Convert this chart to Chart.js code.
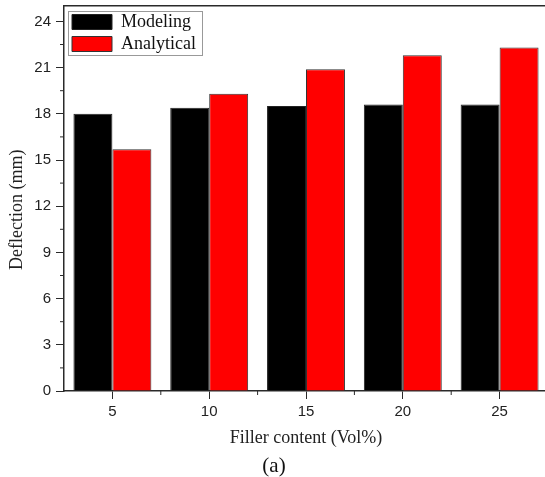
<!DOCTYPE html>
<html>
<head>
<meta charset="utf-8">
<script src="https://cdn.jsdelivr.net/npm/chart.js@4"></script>
<style>
  html, body { margin: 0; padding: 0; background: #fff; overflow: hidden; }
  #wrap { position: absolute; left: 0; top: 0; width: 600px; height: 477px; }
  canvas { display: block; }
</style>
</head>
<body>
<div id="wrap"><canvas id="myChart"></canvas></div>
<script>
// values
const fillerContent = ['5', '10', '15', '20', '25'];
const modeling = [18.0, 18.4, 18.5, 18.6, 18.6];
const analytical = [15.7, 19.3, 20.9, 21.8, 22.3];
const yTicks = [0, 3, 6, 9, 12, 15, 18, 21, 24];

const axisColor = '#2a2a2a';
const legendPad = 4;

// legend placement, minor ticks, legend frame
const minorAndLegend = {
  id: 'minorAndLegend',
  afterLayout(chart) {
    const lg = chart.legend;
    lg.left = chart.chartArea.left + 4;
    lg.top = chart.chartArea.top + 3;
  },
  afterDraw(chart) {
    const ctx = chart.ctx;
    const area = chart.chartArea;
    const x = chart.scales.x;
    const y = chart.scales.y;
    ctx.save();
    // keep the cropped right side of the frame open
    ctx.fillStyle = '#fff';
    ctx.fillRect(area.right - 7, area.top + 1, 7, area.bottom - area.top - 2);
    ctx.strokeStyle = axisColor;
    ctx.lineWidth = 1;
    ctx.beginPath();
    for (let i = 0; i < yTicks.length - 1; i++) {
      const py = y.getPixelForValue((yTicks[i] + yTicks[i + 1]) / 2);
      ctx.moveTo(area.left - 4, py);
      ctx.lineTo(area.left, py);
    }
    for (let i = 0; i < fillerContent.length - 1; i++) {
      const px = (x.getPixelForTick(i) + x.getPixelForTick(i + 1)) / 2;
      ctx.moveTo(px, area.bottom);
      ctx.lineTo(px, area.bottom + 4);
    }
    ctx.stroke();
    // legend frame
    const lg = chart.legend;
    const lab = lg.options.labels;
    ctx.font = '18px "Liberation Serif"';
    let tw = 0;
    lg.legendItems.forEach(it => { tw = Math.max(tw, ctx.measureText(it.text).width); });
    const n = lg.legendItems.length;
    const l = lg.left + legendPad - 4;
    const t = lg.top + legendPad + 1.5 - 4;
    const r = lg.left + legendPad + lab.boxWidth + 9 + tw + 6;
    const b = lg.top + legendPad + (n - 1) * (18 + legendPad) + 1.5 + lab.boxHeight + 3;
    ctx.strokeStyle = '#999';
    ctx.strokeRect(Math.round(l) + 0.5, Math.round(t) + 0.5, Math.round(r - l), Math.round(b - t));
    ctx.restore();
  }
};

Chart.defaults.font.family = 'Liberation Sans';
Chart.defaults.color = '#222';

const ctx = document.getElementById('myChart').getContext('2d');
const chart = new Chart(ctx, {
  type: 'bar',
  data: {
    labels: fillerContent,
    datasets: [{
      label: 'Modeling',
      data: modeling,
      backgroundColor: '#000000',
      borderColor: '#222',
      borderWidth: 1
    }, {
      label: 'Analytical',
      data: analytical,
      backgroundColor: '#ff0000',
      borderColor: '#333',
      borderWidth: 1
    }]
  },
  options: {
    responsive: true,
    maintainAspectRatio: false,
    animation: false,
    layout: { padding: { top: 6, left: 0, right: 52, bottom: 0 } },
    datasets: { bar: { categoryPercentage: 0.805, barPercentage: 1.0 } },
    scales: {
      x: {
        offset: true,
        afterFit(scale) { scale.height = 65; scale.paddingLeft = 0; scale.paddingRight = 0; },
        grid: { offset: false, drawOnChartArea: false, tickLength: 8, color: axisColor, tickWidth: 1 },
        border: { color: axisColor, width: 1.5 },
        ticks: { font: { size: 15 }, padding: 4, maxRotation: 0 },
        title: {
          display: true,
          text: 'Filler content (Vol%)',
          font: { family: 'Liberation Serif', size: 18 },
          padding: { top: 0, bottom: 7 }
        }
      },
      // top frame line
      xTop: {
        type: 'category',
        position: 'top',
        offset: true,
        afterFit(scale) { scale.height = 0; scale.paddingLeft = 0; scale.paddingRight = 0; },
        grid: { display: false, drawTicks: false },
        border: { display: true, color: axisColor, width: 1.5 },
        ticks: { display: false }
      },
      y: {
        min: 0,
        max: 25,
        afterFit(scale) { scale.width = 64; scale.paddingTop = 0; scale.paddingBottom = 0; },
        afterBuildTicks(scale) { scale.ticks = yTicks.map(v => ({ value: v })); },
        grid: { drawOnChartArea: false, tickLength: 8, color: axisColor, tickWidth: 1 },
        border: { color: axisColor, width: 1.5 },
        ticks: { font: { size: 15 }, padding: 5 },
        title: {
          display: true,
          text: 'Deflection (mm)     ',
          font: { family: 'Liberation Serif', size: 18 },
          padding: { top: 6, bottom: 0 }
        }
      }
    },
    plugins: {
      legend: {
        position: 'chartArea',
        align: 'start',
        labels: {
          boxWidth: 40,
          boxHeight: 15,
          padding: legendPad,
          color: '#111',
          font: { family: 'Liberation Serif', size: 18 }
        }
      },
      title: {
        display: true,
        position: 'bottom',
        text: '(a)',
        color: '#111',
        font: { family: 'Liberation Serif', size: 21, weight: 'normal', lineHeight: 1.0 },
        padding: { top: 0, bottom: 0 }
      },
      tooltip: { enabled: false }
    }
  },
  plugins: [minorAndLegend]
});
</script>
</body>
</html>
